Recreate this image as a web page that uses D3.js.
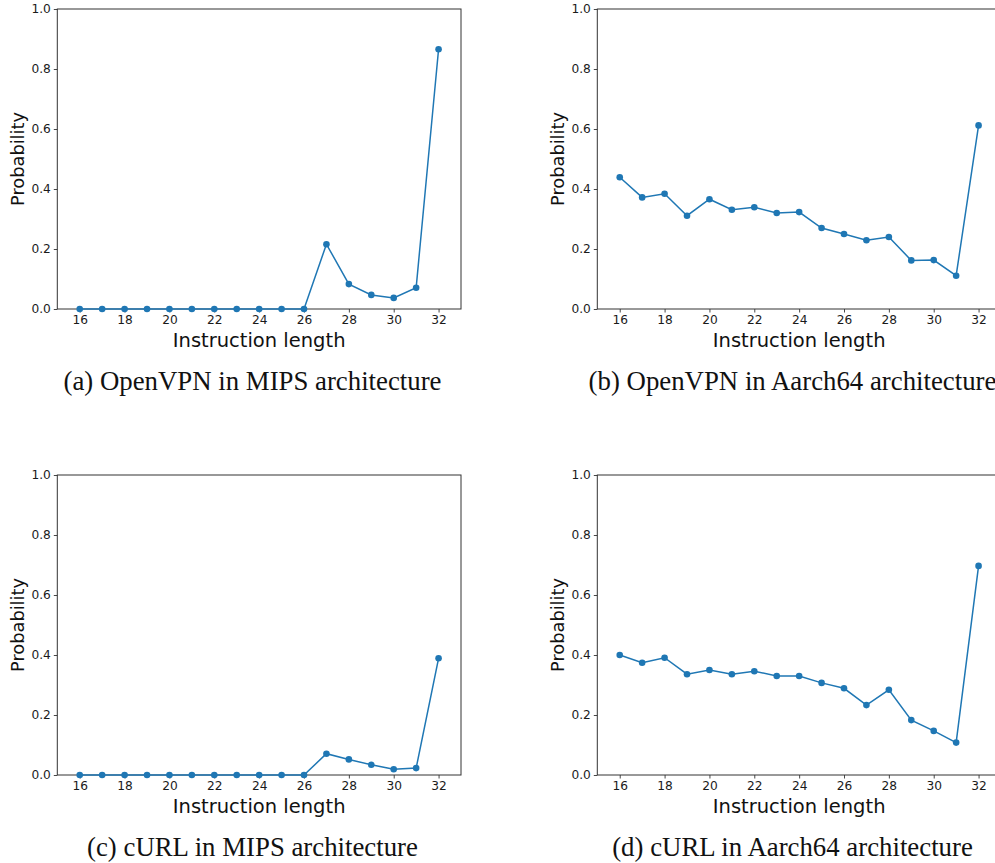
<!doctype html>
<html lang="en">
<head>
    <meta charset="UTF-8">
    <title>Instruction length probability</title>
    <script src="https://d3js.org/d3.v7.min.js"></script>
    <style>
        body { margin: 0; background: #fff; }
        svg { display: block; }
    </style>
</head>
<body>
<div id="chart-area"></div>

<script>

// instruction lengths on the x axis
const lengths = [16, 17, 18, 19, 20, 21, 22, 23, 24, 25, 26, 27, 28, 29, 30, 31, 32];
const xTicks  = [16, 18, 20, 22, 24, 26, 28, 30, 32];
const yTicks  = [0, 0.2, 0.4, 0.6, 0.8, 1.0];

// probability per length
const openvpnMips    = [0, 0, 0, 0, 0, 0, 0, 0, 0, 0, 0, 0.216, 0.083, 0.047, 0.037, 0.071, 0.866];
const openvpnAarch64 = [0.439, 0.372, 0.384, 0.311, 0.366, 0.331, 0.339, 0.320, 0.323, 0.270, 0.250, 0.229, 0.240, 0.162, 0.163, 0.111, 0.612];
const curlMips       = [0, 0, 0, 0, 0, 0, 0, 0, 0, 0, 0, 0.071, 0.052, 0.034, 0.019, 0.023, 0.389];
const curlAarch64    = [0.400, 0.374, 0.391, 0.336, 0.350, 0.336, 0.346, 0.330, 0.330, 0.307, 0.289, 0.233, 0.284, 0.183, 0.147, 0.108, 0.697];

const captions = [
    '(a) OpenVPN in MIPS architecture',
    '(b) OpenVPN in Aarch64 architecture',
    '(c) cURL in MIPS architecture',
    '(d) cURL in Aarch64 architecture'
];
const series = [openvpnMips, openvpnAarch64, curlMips, curlAarch64];

const W = 995, H = 863;
const color = '#1f77b4';
const spine = '#333';

// box of one axes inside its panel
const box = { left: 57.3, right: 461, top: 9, bottom: 309 };
const panelOffsets = [[0, 0], [540, 0], [0, 466], [540, 466]];

const svg = d3.select('#chart-area')
    .append('svg')
    .attr('width', W)
    .attr('height', H);

const x = d3.scaleLinear()
    .domain([15, 33])
    .range([box.left, box.right]);

const y = d3.scaleLinear()
    .domain([0, 1])
    .range([box.bottom, box.top]);

const line = d3.line()
    .x((d, i) => x(lengths[i]))
    .y(d => y(d));

series.forEach((vals, k) => {
    const [dx, dy] = panelOffsets[k];
    const g = svg.append('g')
        .attr('transform', `translate(${dx},${dy})`);

    // axes
    const xAxis = g.append('g')
        .attr('transform', `translate(0,${box.bottom})`)
        .call(d3.axisBottom(x).tickValues(xTicks).tickSize(3.5).tickPadding(3).tickFormat(d3.format('d')));

    const yAxis = g.append('g')
        .attr('transform', `translate(${box.left},0)`)
        .call(d3.axisLeft(y).tickValues(yTicks).tickSize(3.5).tickPadding(3).tickFormat(d3.format('.1f')));

    [xAxis, yAxis].forEach(a => {
        a.select('.domain').remove();
        a.selectAll('line').attr('stroke', spine).attr('stroke-width', 0.9);
        a.selectAll('text')
            .attr('fill', '#1a1a1a')
            .style('font-family', 'DejaVu Sans')
            .style('font-size', '12.2px');
    });

    // frame
    g.append('rect')
        .attr('x', box.left)
        .attr('y', box.top)
        .attr('width', box.right - box.left)
        .attr('height', box.bottom - box.top)
        .attr('fill', 'none')
        .attr('stroke', spine)
        .attr('stroke-width', 1);

    g.append('path')
        .datum(vals)
        .attr('d', line)
        .attr('fill', 'none')
        .attr('stroke', color)
        .attr('stroke-width', 1.5);

    g.selectAll('circle.pt')
        .data(vals)
        .enter()
        .append('circle')
            .attr('class', 'pt')
            .attr('cx', (d, i) => x(lengths[i]))
            .attr('cy', d => y(d))
            .attr('r', 3.3)
            .attr('fill', color);

    g.append('text')
        .attr('x', (box.left + box.right) / 2)
        .attr('y', 346.5)
        .attr('text-anchor', 'middle')
        .style('font-family', 'DejaVu Sans')
        .style('font-size', '19.5px')
        .attr('fill', '#111')
        .text('Instruction length');

    g.append('text')
        .attr('transform', `translate(23.5,${(box.top + box.bottom) / 2}) rotate(-90)`)
        .attr('text-anchor', 'middle')
        .style('font-family', 'DejaVu Sans')
        .style('font-size', '17.8px')
        .attr('fill', '#111')
        .text('Probability');

    g.append('text')
        .attr('x', 252.5)
        .attr('y', 389.5)
        .attr('text-anchor', 'middle')
        .style('font-family', 'Liberation Serif')
        .style('font-size', '26.8px')
        .attr('fill', '#111')
        .text(captions[k]);
});

</script>

</body>
</html>
